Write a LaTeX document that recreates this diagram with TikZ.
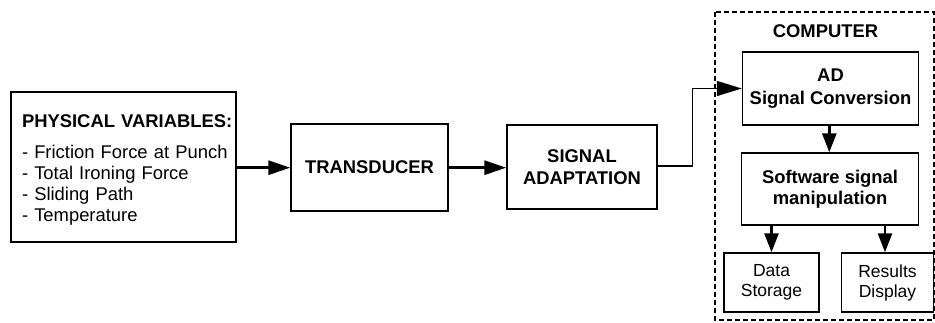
\documentclass[tikz,border=0pt]{standalone}
\usepackage{fontspec}
\setmainfont{Liberation Sans}
\usetikzlibrary{arrows.meta,calc}
\begin{document}
\begin{tikzpicture}[x=1pt,y=-1pt,
  font=\fontsize{18.4}{21.5}\selectfont,
  box/.style={draw=black,line width=1.4pt,inner sep=0pt,align=center,anchor=center},
  thickarrow/.style={line width=3pt,-{Triangle[length=22pt,width=14pt]}},
  vertarrow/.style={line width=2.6pt,-{Triangle[length=19pt,width=14pt]}},
  thinarrow/.style={line width=1.4pt,-{Triangle[length=25pt,width=15pt]}},
  groupbox/.style={draw=black,line width=1.3pt,dash pattern=on 5pt off 3pt}]
\useasboundingbox (0,0) rectangle (935,322);
% dashed computer frame
\draw[groupbox] (715,12) rectangle (934,320);
\node[font=\fontsize{18.4}{21.5}\selectfont\bfseries] (comp) at (825.5,31.5) {COMPUTER};
% boxes
\node[box,minimum width=225pt,minimum height=150pt,text width=203pt,align=left,font=\fontsize{18.4}{21}\selectfont] (phys) at (123.5,167)
  {\rule{0pt}{18pt}\mbox{\textbf{PHYSICAL VARIABLES:}}\\[10pt]
   \mbox{- Friction Force at Punch}\\
   \mbox{- Total Ironing Force}\\
   \mbox{- Sliding Path}\\
   \mbox{- Temperature}};
\node[box,minimum width=157pt,minimum height=87pt,font=\fontsize{18.4}{21.5}\selectfont\bfseries] (trans) at (369.5,167.5) {TRANSDUCER};
\node[box,minimum width=150pt,minimum height=84pt,font=\fontsize{18.4}{22}\selectfont\bfseries] (sig) at (582,167) {SIGNAL\\ADAPTATION};
\node[box,minimum width=176pt,minimum height=73pt,font=\fontsize{18.4}{22.5}\selectfont\bfseries] (ad) at (830.5,88.5) {AD\\Signal Conversion};
\node[box,minimum width=176.5pt,minimum height=72pt,font=\fontsize{18.4}{21}\selectfont\bfseries] (sw) at (830,189) {Software signal\\manipulation};
\node[box,minimum width=95pt,minimum height=59pt,font=\fontsize{17.5}{20}\selectfont] (data) at (771.5,282.5) {Data\\Storage};
\node[box,minimum width=92pt,minimum height=59pt,font=\fontsize{17.5}{20}\selectfont] (res) at (887.5,282.5) {Results\\Display};
% connectors
\draw[thickarrow] (phys.east |- 0,167.7) -- (trans.west |- 0,167.7);
\draw[thickarrow] (trans.east |- 0,167.7) -- (sig.west |- 0,167.7);
\draw[thinarrow] (sig.east |- 0,166) -- ++(35,0) |- (ad.west);
\draw[vertarrow] (ad.south -| 829.3,0) -- (sw.north -| 829.3,0);
\draw[vertarrow] (data.north |- sw.south) -- (data.north);
\draw[vertarrow] (sw.south -| 885,0) -- (res.north -| 885,0);
\end{tikzpicture}
\end{document}
